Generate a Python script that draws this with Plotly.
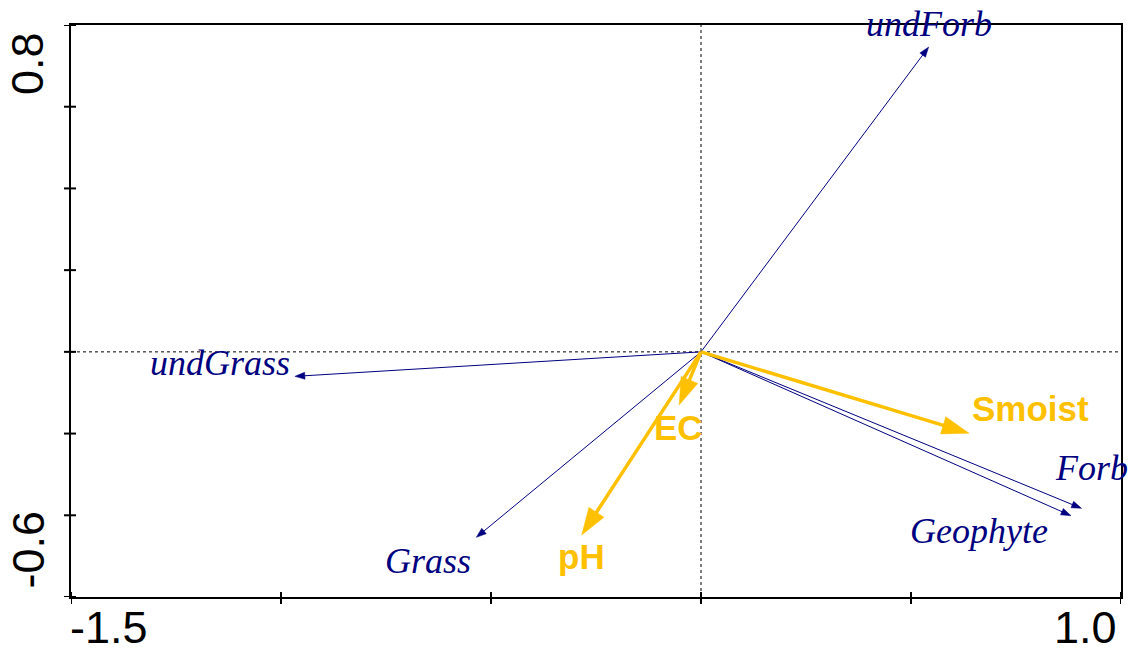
import math
import plotly.graph_objects as go

# Species scores (arrows in navy)
species = ["undForb", "undGrass", "Grass", "Forb", "Geophyte"]
species_x = [0.542, -0.967, -0.535, 0.906, 0.881]
species_y = [0.746, -0.060, -0.454, -0.383, -0.401]

# Environmental variables (arrows in orange)
env_vars = ["Smoist", "EC", "pH"]
env_x = [0.638, -0.052, -0.284]
env_y = [-0.199, -0.130, -0.448]

# Axis ranges, tick positions and the end labels shown on each axis
x_range = [-1.5, 1.0]
y_range = [-0.6, 0.8]
x_ticks = [-1.5, -1.0, -0.5, 0.0, 0.5, 1.0]
y_ticks = [-0.6, -0.4, -0.2, 0.0, 0.2, 0.4, 0.6, 0.8]
x_end_labels = ["-1.5", "1.0"]
y_end_labels = ["-0.6", "0.8"]

# Figure geometry
W, H = 1134, 655
M = dict(l=71, r=11, t=25, b=58)
plot_w = W - M["l"] - M["r"]
plot_h = H - M["t"] - M["b"]
kx = plot_w / (x_range[1] - x_range[0])  # px per unit
ky = plot_h / (y_range[1] - y_range[0])

NAVY = "#000080"
ORANGE = "#FFC000"

# label offsets in px (right, up) from the arrow tip
species_offsets = {
    "undForb": (0, 23), "undGrass": (-75, 13), "Grass": (-48, -24),
    "Forb": (10, 40), "Geophyte": (-92, -15),
}
env_offsets = {"Smoist": (62, 25), "EC": (-1, -23), "pH": (0, -22)}


def arrow_head(tx, ty, length, half_w):
    """Triangle (in data units) for an arrow from the origin to (tx, ty)."""
    px, py = tx * kx, ty * ky
    n = math.hypot(px, py)
    ux, uy = px / n, py / n
    bx, by = px - length * ux, py - length * uy
    c1 = (bx - half_w * uy, by + half_w * ux)
    c2 = (bx + half_w * uy, by - half_w * ux)
    xs = [tx, c1[0] / kx, c2[0] / kx, tx]
    ys = [ty, c1[1] / ky, c2[1] / ky, ty]
    base = ((px - (length - 2) * ux) / kx, (py - (length - 2) * uy) / ky)
    return xs, ys, base


fig = go.Figure()


def add_arrow(tx, ty, color, width, length, half_w):
    hx, hy, base = arrow_head(tx, ty, length, half_w)
    fig.add_trace(go.Scatter(
        x=[0, base[0]], y=[0, base[1]], mode="lines",
        line=dict(color=color, width=width), hoverinfo="skip", showlegend=False))
    fig.add_trace(go.Scatter(
        x=hx, y=hy, mode="lines", fill="toself", fillcolor=color,
        line=dict(color=color, width=0.5), hoverinfo="skip", showlegend=False))


for x, y in zip(species_x, species_y):
    add_arrow(x, y, NAVY, 1, 10, 3.5)
for x, y in zip(env_x, env_y):
    add_arrow(x, y, ORANGE, 3.5, 27, 9)

annotations = []
for name, x, y in zip(species, species_x, species_y):
    dx, dy = species_offsets[name]
    annotations.append(dict(
        x=x, y=y, xref="x", yref="y", text=name, showarrow=False,
        xshift=dx, yshift=dy, xanchor="center", yanchor="middle",
        font=dict(family="Liberation Serif", size=36, color=NAVY, style="italic")))
for name, x, y in zip(env_vars, env_x, env_y):
    dx, dy = env_offsets[name]
    annotations.append(dict(
        x=x, y=y, xref="x", yref="y", text="<b>%s</b>" % name, showarrow=False,
        xshift=dx, yshift=dy, xanchor="center", yanchor="middle",
        font=dict(family="Liberation Sans", size=35, color=ORANGE)))

# end labels on the axes, aligned inward
tick_font = dict(family="Liberation Sans", size=45, color="black")
annotations.append(dict(x=x_range[0], y=0, xref="x", yref="paper", text=x_end_labels[0],
                        showarrow=False, xanchor="left", yanchor="top", xshift=-3, yshift=-3,
                        font=tick_font))
annotations.append(dict(x=x_range[1], y=0, xref="x", yref="paper", text=x_end_labels[1],
                        showarrow=False, xanchor="right", yanchor="top", xshift=-2, yshift=-3,
                        font=tick_font))
annotations.append(dict(x=0, y=y_range[1], xref="paper", yref="y", text=y_end_labels[1],
                        showarrow=False, textangle=-90, xanchor="right", yanchor="top",
                        xshift=-16, yshift=-5, font=tick_font))
annotations.append(dict(x=0, y=y_range[0], xref="paper", yref="y", text=y_end_labels[0],
                        showarrow=False, textangle=-90, xanchor="right", yanchor="bottom",
                        xshift=-16, yshift=6, font=tick_font))

shapes = []
# dotted reference lines through the origin
shapes.append(dict(type="line", xref="x", yref="paper", x0=0, x1=0, y0=0, y1=1,
                   line=dict(color="black", width=1, dash="dot"), layer="below"))
shapes.append(dict(type="line", xref="paper", yref="y", x0=0, x1=1, y0=0, y1=0,
                   line=dict(color="black", width=1, dash="dot"), layer="below"))
# crossing tick marks on the bottom and left axes
for t in x_ticks:
    shapes.append(dict(type="line", xref="x", yref="paper", x0=t, x1=t,
                       y0=-7 / plot_h, y1=5 / plot_h, line=dict(color="black", width=2)))
for t in y_ticks:
    shapes.append(dict(type="line", xref="paper", yref="y", y0=t, y1=t,
                       x0=-7 / plot_w, x1=5 / plot_w, line=dict(color="black", width=2)))

axis_common = dict(showgrid=False, zeroline=False, showline=True, mirror=True,
                   linecolor="black", linewidth=2, ticks="", showticklabels=False)

fig.update_layout(
    width=W, height=H, margin=M,
    paper_bgcolor="white", plot_bgcolor="white",
    xaxis=dict(range=x_range, **axis_common),
    yaxis=dict(range=y_range, **axis_common),
    annotations=annotations, shapes=shapes, showlegend=False,
)

fig.write_html("out.html")
